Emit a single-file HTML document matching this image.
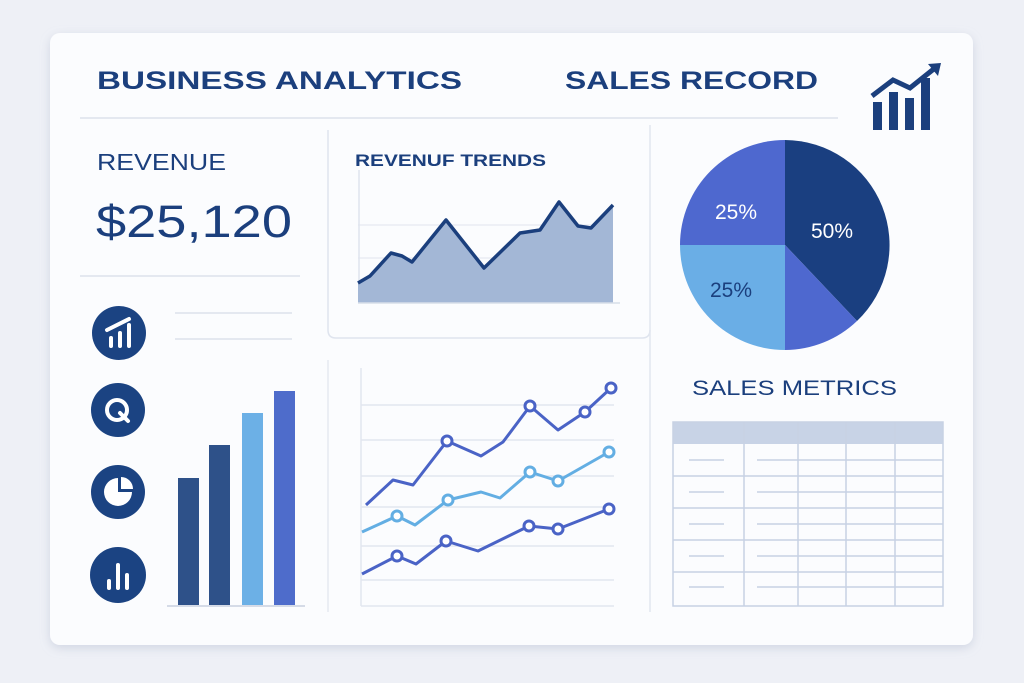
<!DOCTYPE html>
<html><head><meta charset="utf-8"><style>
html,body{margin:0;padding:0;background:#eef0f6;}
svg{display:block;font-family:"Liberation Sans",sans-serif;}
</style></head><body>
<svg width="1024" height="683" viewBox="0 0 1024 683">
<defs><filter id="sh" x="-5%" y="-5%" width="110%" height="115%"><feDropShadow dx="0" dy="3" stdDeviation="5" flood-color="#9aa6c0" flood-opacity="0.35"/></filter></defs>
<rect x="0" y="0" width="1024" height="683" fill="#eef0f6"/>
<rect x="50" y="33" width="923" height="612" rx="10" fill="#fbfcfe" filter="url(#sh)"/>
<g fill="#1b3f7d" font-weight="bold">
<text x="97" y="89" font-size="25" textLength="365" lengthAdjust="spacingAndGlyphs">BUSINESS ANALYTICS</text>
<text x="565" y="89" font-size="25" textLength="253" lengthAdjust="spacingAndGlyphs">SALES RECORD</text>
<text x="97" y="170" font-size="23" font-weight="normal" textLength="129" lengthAdjust="spacingAndGlyphs">REVENUE</text>
<text x="96" y="237" font-size="45" font-weight="normal" textLength="196" lengthAdjust="spacingAndGlyphs">$25,120</text>
<text x="355" y="166" font-size="17" textLength="191" lengthAdjust="spacingAndGlyphs">REVENUF TRENDS</text>
<text x="692" y="395" font-size="21" font-weight="normal" textLength="205" lengthAdjust="spacingAndGlyphs">SALES METRICS</text>
</g>
<line x1="80" y1="118" x2="838" y2="118" stroke="#dde2ec" stroke-width="1.5"/>
<g fill="#1b3f7d">
<rect x="873" y="102" width="9" height="28"/><rect x="889" y="92" width="9" height="38"/><rect x="905" y="98" width="9" height="32"/><rect x="921" y="78" width="9" height="52"/>
<polyline points="872,96 893,80 910,88 935,68" fill="none" stroke="#1b3f7d" stroke-width="5"/>
<polygon points="928,64 941,63 938,76"/>
</g>
<line x1="80" y1="276" x2="300" y2="276" stroke="#dde2ec" stroke-width="1.5"/>
<line x1="175" y1="313" x2="292" y2="313" stroke="#dde2ec" stroke-width="1.5"/>
<line x1="175" y1="339" x2="292" y2="339" stroke="#dde2ec" stroke-width="1.5"/>
<g fill="#1b4382">
<circle cx="119" cy="333" r="27"/><circle cx="118" cy="410" r="27"/><circle cx="118" cy="492" r="27"/><circle cx="118" cy="575" r="28"/>
</g>
<g stroke="#fff" stroke-width="4" stroke-linecap="round" fill="none">
<line x1="111" y1="338" x2="111" y2="346"/><line x1="120" y1="333" x2="120" y2="346"/><line x1="129" y1="325" x2="129" y2="346"/>
<line x1="107" y1="330" x2="129" y2="319"/>
<circle cx="117" cy="410" r="10"/><line x1="120" y1="413" x2="128" y2="421"/>
<line x1="109" y1="581" x2="109" y2="588"/><line x1="118" y1="565" x2="118" y2="588"/><line x1="127" y1="575" x2="127" y2="588"/>
</g>
<path d="M118 492 L118 478 A14 14 0 1 0 132 492 Z" fill="#fff"/>
<path d="M121 489 L121 477 A12 12 0 0 1 133 489 Z" fill="#fff"/>
<rect x="178" y="478" width="21" height="127" fill="#2e5189"/>
<rect x="209" y="445" width="21" height="160" fill="#2e5189"/>
<rect x="242" y="413" width="21" height="192" fill="#6cb0e6"/>
<rect x="274" y="391" width="21" height="214" fill="#4e6ccb"/>
<line x1="167" y1="606" x2="305" y2="606" stroke="#d5dbe7" stroke-width="2"/>
<path d="M328 130 L328 330 Q328 338 336 338 L642 338 Q650 338 650 330" fill="none" stroke="#dfe4ee" stroke-width="1.5"/>
<line x1="650" y1="125" x2="650" y2="612" stroke="#e2e6ef" stroke-width="1.5"/>
<line x1="328" y1="360" x2="328" y2="612" stroke="#e6e9f1" stroke-width="1.5"/>
<line x1="358" y1="225" x2="613" y2="225" stroke="#e0e5ee"/>
<line x1="358" y1="258" x2="613" y2="258" stroke="#e0e5ee"/>
<line x1="359" y1="170" x2="359" y2="303" stroke="#dfe4ee" stroke-width="1.5"/>
<path d="M358 283 L370 276 L391 253 L402 256 L412 262 L446 220 L484 268 L520 233 L540 230 L559 202 L578 226 L591 228 L613 205 L613 303 L358 303 Z" fill="#a3b7d6"/>
<polyline points="358,283 370,276 391,253 402,256 412,262 446,220 484,268 520,233 540,230 559,202 578,226 591,228 613,205" fill="none" stroke="#1b3f7d" stroke-width="3.5" stroke-linejoin="round"/>
<line x1="358" y1="303" x2="620" y2="303" stroke="#d8dee9" stroke-width="1.5"/>
<g stroke="#e2e6ef" stroke-width="1.5">
<line x1="361" y1="405" x2="614" y2="405"/><line x1="361" y1="440" x2="614" y2="440"/><line x1="361" y1="476" x2="614" y2="476"/><line x1="361" y1="507" x2="614" y2="507"/><line x1="361" y1="546" x2="614" y2="546"/><line x1="361" y1="580" x2="614" y2="580"/><line x1="361" y1="606" x2="614" y2="606"/>
<line x1="361" y1="368" x2="361" y2="606"/>
</g>
<g fill="none" stroke-width="3" stroke-linejoin="round">
<polyline points="366,505 393,480 413,485 447,441 481,456 503,442 530,406 558,430 585,412 611,388" stroke="#4a63c6"/>
<polyline points="362,532 397,516 415,525 448,500 481,492 500,498 530,472 558,481 609,452" stroke="#63aee3"/>
<polyline points="362,574 397,556 416,564 446,541 478,551 529,526 558,529 609,509" stroke="#4a63c6"/>
</g>
<g fill="#fff" stroke-width="3">
<g stroke="#4a63c6"><circle cx="447" cy="441" r="5"/><circle cx="530" cy="406" r="5"/><circle cx="585" cy="412" r="5"/><circle cx="611" cy="388" r="5"/>
<circle cx="397" cy="556" r="5"/><circle cx="446" cy="541" r="5"/><circle cx="529" cy="526" r="5"/><circle cx="558" cy="529" r="5"/><circle cx="609" cy="509" r="5"/></g>
<g stroke="#63aee3"><circle cx="397" cy="516" r="5"/><circle cx="448" cy="500" r="5"/><circle cx="530" cy="472" r="5"/><circle cx="558" cy="481" r="5"/><circle cx="609" cy="452" r="5"/></g>
</g>
<path d="M785 245 L785 140 A105 105 0 0 1 857 321 Z" fill="#1a3f80"/>
<path d="M785 245 L857 321 A105 105 0 0 1 785 350 Z" fill="#4e68cf"/>
<path d="M785 245 L785 350 A105 105 0 0 1 680 245 Z" fill="#6aaee6"/>
<path d="M785 245 L680 245 A105 105 0 0 1 785 140 Z" fill="#4e68cf"/>
<g font-size="21" fill="#fff"><text x="715" y="219">25%</text><text x="811" y="238">50%</text><text x="710" y="297" fill="#1b3f7d">25%</text></g>
<rect x="673" y="422" width="270" height="22" fill="#c8d3e6"/>
<g stroke="#c7d1e4" stroke-width="1.5" fill="none">
<rect x="673" y="422" width="270" height="184"/>
<line x1="744" y1="422" x2="744" y2="606"/><line x1="798" y1="422" x2="798" y2="606"/><line x1="846" y1="422" x2="846" y2="606"/><line x1="895" y1="422" x2="895" y2="606"/>
<line x1="673" y1="476" x2="943" y2="476"/><line x1="673" y1="508" x2="943" y2="508"/><line x1="673" y1="540" x2="943" y2="540"/><line x1="673" y1="572" x2="943" y2="572"/>
<line x1="757" y1="460" x2="943" y2="460"/><line x1="757" y1="492" x2="943" y2="492"/><line x1="757" y1="524" x2="943" y2="524"/><line x1="757" y1="556" x2="943" y2="556"/><line x1="757" y1="587" x2="943" y2="587"/>
<line x1="689" y1="460" x2="724" y2="460"/><line x1="689" y1="492" x2="724" y2="492"/><line x1="689" y1="524" x2="724" y2="524"/><line x1="689" y1="556" x2="724" y2="556"/><line x1="689" y1="587" x2="724" y2="587"/>
</g>
</svg>
</body></html>
